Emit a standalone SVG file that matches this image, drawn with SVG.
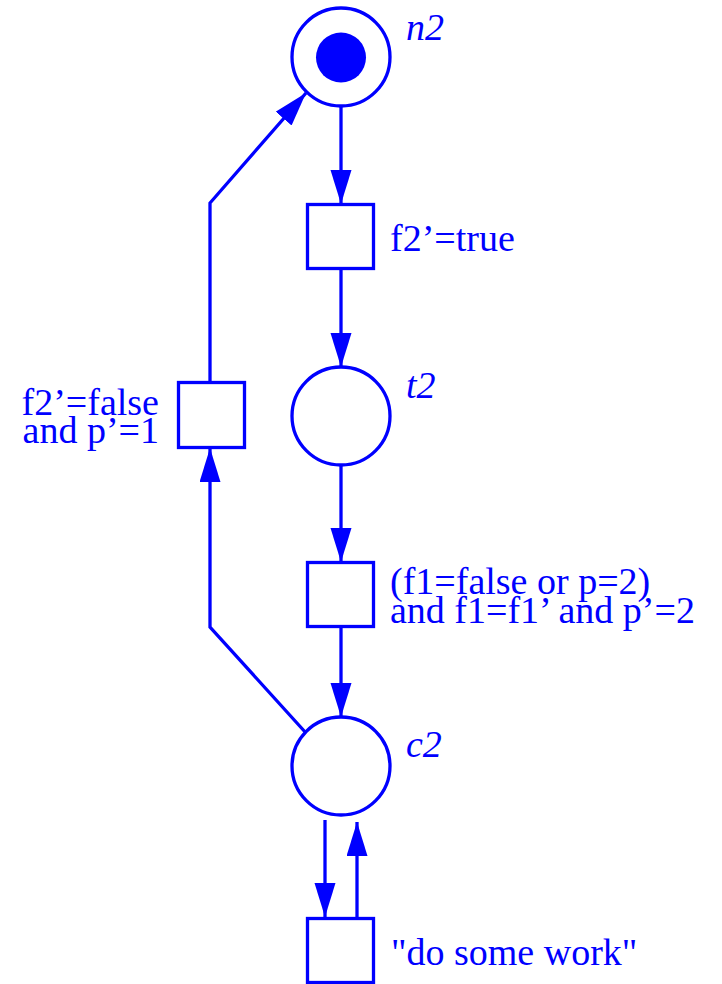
<svg xmlns="http://www.w3.org/2000/svg" width="722" height="984" viewBox="0 0 722 984">
<defs>
<style>
.node{fill:none;stroke:#0000ff;stroke-width:3.3}
.edge{fill:none;stroke:#0000ff;stroke-width:3.3}
.lbl{font-family:"Liberation Serif","Times New Roman",serif;font-size:38px;fill:#0000ff}
.it{font-style:italic}
</style>
<marker id="ah" markerUnits="userSpaceOnUse" markerWidth="36" markerHeight="22" refX="34" refY="10.5" orient="auto">
<path d="M0,0 L34,10.5 L0,21 Z" fill="#0000ff"/>
</marker>
</defs>
<rect width="722" height="984" fill="#ffffff"/>
<g id="connectors">
<line class="edge" x1="341" y1="106" x2="341" y2="204" marker-end="url(#ah)"/>
<line class="edge" x1="341" y1="268" x2="341" y2="367" marker-end="url(#ah)"/>
<line class="edge" x1="341" y1="465" x2="341" y2="562" marker-end="url(#ah)"/>
<line class="edge" x1="341" y1="627" x2="341" y2="717" marker-end="url(#ah)"/>
<line class="edge" x1="325" y1="820" x2="325" y2="917" marker-end="url(#ah)"/>
<line class="edge" x1="357" y1="917" x2="357" y2="822" marker-end="url(#ah)"/>
<polyline class="edge" points="306,733 210,627 210,448" marker-end="url(#ah)"/>
<polyline class="edge" points="210,382 210,203 306,93" marker-end="url(#ah)"/>
</g>
<g id="n2">
<circle class="node" cx="341" cy="57" r="49"/>
<circle cx="341" cy="57.5" r="25" fill="#0000ff"/>
<text class="lbl it" x="406" y="40">n2</text>
</g>
<g id="t_f2true">
<rect class="node" x="307.5" y="204.5" width="66" height="64"/>
<text class="lbl" x="390" y="251">f2’=true</text>
</g>
<g id="t2">
<circle class="node" cx="341" cy="416" r="49"/>
<text class="lbl it" x="406" y="398">t2</text>
</g>
<g id="t_f1">
<rect class="node" x="307.5" y="562.5" width="66" height="64"/>
<text class="lbl" x="390" y="594">(f1=false or p=2)</text>
<text class="lbl" x="390" y="623">and f1=f1’ and p’=2</text>
</g>
<g id="c2">
<circle class="node" cx="341" cy="766" r="49"/>
<text class="lbl it" x="406" y="757">c2</text>
</g>
<g id="t_work">
<rect class="node" x="307.5" y="918.5" width="66" height="64"/>
<text class="lbl" x="391" y="965">"do some work"</text>
</g>
<g id="t_f2false">
<rect class="node" x="178.5" y="382.5" width="66" height="65"/>
<text class="lbl" x="159" y="415" text-anchor="end">f2’=false</text>
<text class="lbl" x="159" y="443" text-anchor="end">and p’=1</text>
</g>
</svg>
